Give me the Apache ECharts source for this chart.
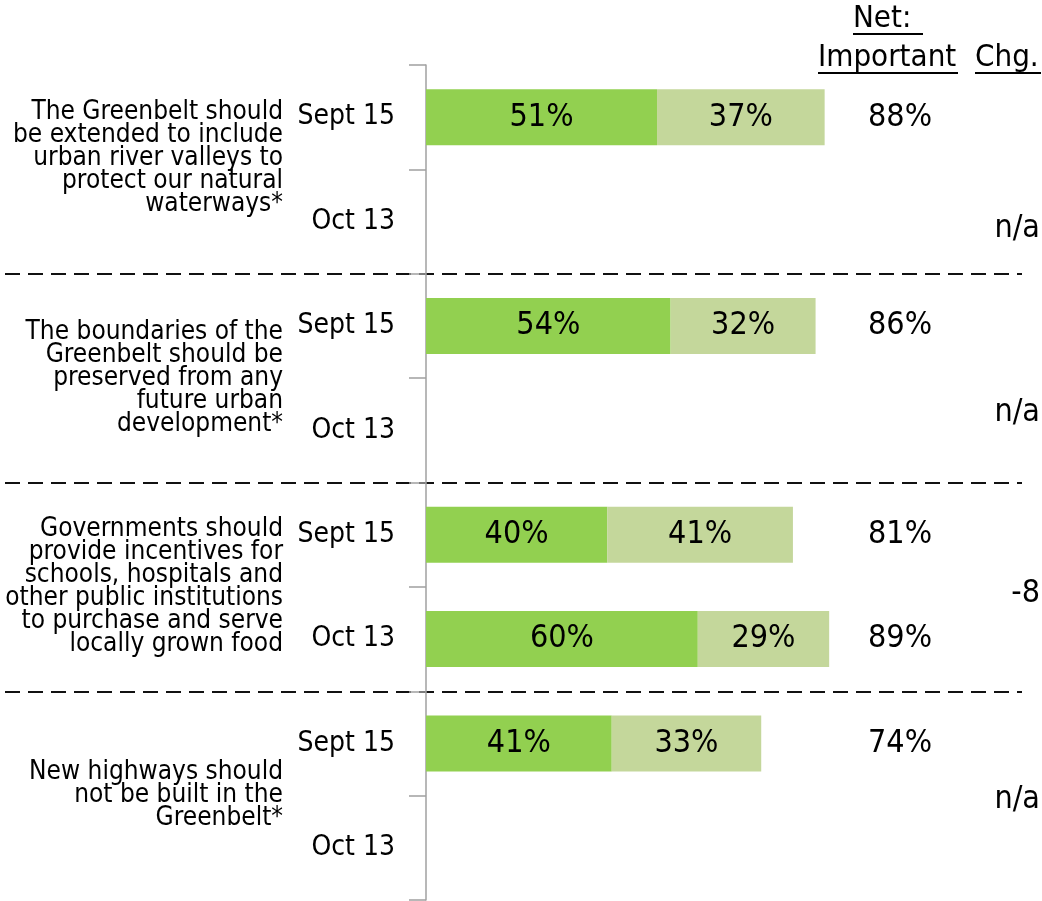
<!DOCTYPE html>
<html lang="en">
<head>
  <meta charset="UTF-8">
  <title>greenbelt importance chart</title>
  <style>
    html, body { margin: 0; padding: 0; background: #fff; }
    #chart { width: 1042px; height: 901px; }
  </style>
</head>
<body>
  <div id="chart"></div>

  <script src="https://cdn.jsdelivr.net/npm/echarts@6/dist/echarts.min.js"></script>
  <script>
    // statements (two survey waves each)
    var statements = [
      'The Greenbelt should\nbe extended to include\nurban river valleys to\nprotect our natural\nwaterways*',
      'The boundaries of the\nGreenbelt should be\npreserved from any\nfuture urban\ndevelopment*',
      'Governments should\nprovide incentives for\nschools, hospitals and\nother public institutions\nto purchase and serve\nlocally grown food',
      'New highways should\nnot be built in the\nGreenbelt*'
    ]
    var waves = ['Sept 15', 'Oct 13']
    // one entry per row: statement x wave
    var veryImportant = [51, null, 54, null, 40, 60, 41, null]
    var somewhatImportant = [37, null, 32, null, 41, 29, 33, null]
    var netImportant = [88, null, 86, null, 81, 89, 74, null]
    var change = ['n/a', 'n/a', '-8', 'n/a']

    var font = '"DejaVu Sans Condensed", "DejaVu Sans", sans-serif'
    var xMax = 100

    var rows = []
    statements.forEach(function (s, si) {
      waves.forEach(function (w) {
        rows.push(si + '|' + w)
      })
    })

    // vertical nudges of the change column (px)
    var chgOffset = [59, 35, 7, 4]

    var header = function (text, x, y, w) {
      return [
        { type: 'text', x: x, y: y, style: { text: text, font: '31px ' + font, fill: '#000', align: 'left', verticalAlign: 'middle' } },
        { type: 'rect', shape: { x: x, y: y + 14, width: w, height: 2 }, style: { fill: '#000' } }
      ]
    }

    var option = {
      animation: false,
      textStyle: { fontFamily: font },
      graphic: [].concat(
        header('Net: ', 853, 19, 70),
        header('Important', 818, 58, 140),
        header('Chg.', 975, 58, 66)
      ),
      grid: [
        { left: 426, right: 163, top: 65, bottom: 1 },
        { left: 5, right: 20, top: 65, bottom: 1 }
      ],
      xAxis: [
        { type: 'value', gridIndex: 0, min: 0, max: xMax, show: false },
        { type: 'value', gridIndex: 1, min: 0, max: 1, show: false }
      ],
      yAxis: [
        {
          type: 'category',
          gridIndex: 0,
          position: 'left',
          inverse: true,
          data: rows,
          axisLine: { lineStyle: { color: '#a0a0a0', width: 1.5 } },
          axisTick: { show: true, length: 17, lineStyle: { color: '#a0a0a0', width: 1.5 } },
          axisLabel: {
            margin: 31,
            fontSize: 28,
            color: '#000',
            formatter: function (val) { return val.split('|')[1] }
          },
          splitLine: { show: false }
        },
        {
          type: 'category',
          gridIndex: 0,
          position: 'left',
          inverse: true,
          data: statements,
          axisLine: { show: false },
          axisTick: { show: false },
          axisLabel: {
            margin: 143,
            fontSize: 26,
            lineHeight: 23,
            color: '#000',
            align: 'right',
            // first block sits a little higher in the original
            formatter: function (val, idx) { return idx === 0 ? val + '\n ' : val }
          }
        },
        {
          type: 'category',
          gridIndex: 0,
          position: 'right',
          inverse: true,
          data: rows,
          axisLine: { show: false },
          axisTick: { show: false },
          axisLabel: {
            margin: 21,
            align: 'center',
            fontSize: 32,
            color: '#000',
            formatter: function (val, idx) {
              return netImportant[idx] == null ? '' : netImportant[idx] + '%'
            }
          }
        },
        {
          type: 'category',
          gridIndex: 1,
          inverse: true,
          data: statements,
          axisLine: { show: false },
          axisTick: { show: false },
          axisLabel: { show: false },
          splitLine: {
            show: true,
            showMinLine: false,
            showMaxLine: false,
            lineStyle: { color: '#111', width: 2, type: [15, 8] }
          }
        }
      ],
      series: [
        {
          name: 'Very important',
          type: 'bar',
          stack: 'total',
          xAxisIndex: 0,
          yAxisIndex: 0,
          barWidth: 56,
          itemStyle: { color: '#92D050' },
          label: { show: true, position: 'inside', fontSize: 32, color: '#000', formatter: '{c}%' },
          data: veryImportant
        },
        {
          name: 'Somewhat important',
          type: 'bar',
          stack: 'total',
          xAxisIndex: 0,
          yAxisIndex: 0,
          barWidth: 56,
          itemStyle: { color: '#C4D79B' },
          label: { show: true, position: 'inside', fontSize: 32, color: '#000', formatter: '{c}%' },
          data: somewhatImportant
        },
        {
          name: 'Chg.',
          type: 'scatter',
          xAxisIndex: 0,
          yAxisIndex: 1,
          symbolSize: 0,
          clip: false,
          silent: true,
          itemStyle: { color: '#000', opacity: 1 },
          data: change.map(function (c, i) {
            return {
              value: [xMax, i],
              chg: c,
              label: { offset: [0, chgOffset[i]], color: '#000' }
            }
          }),
          label: {
            show: true,
            position: 'right',
            distance: 161,
            align: 'right',
            fontSize: 32,
            color: '#000',
            opacity: 1,
            formatter: function (p) { return p.data.chg }
          }
        }
      ]
    }

    var chart = echarts.init(document.getElementById('chart'))
    chart.setOption(option)
  </script>
</body>
</html>
